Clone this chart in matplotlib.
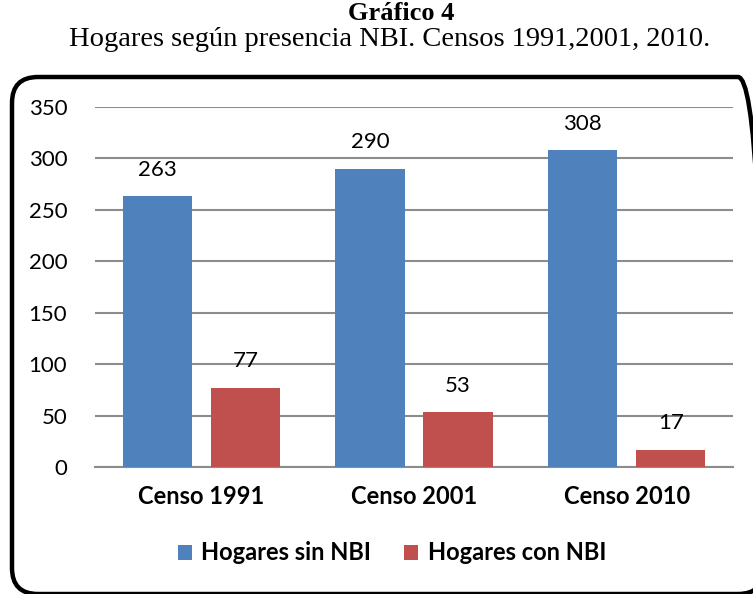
import matplotlib
matplotlib.use("Agg")
import matplotlib.pyplot as plt
import numpy as np
from matplotlib.patches import FancyBboxPatch
from matplotlib.transforms import IdentityTransform

categories = ["Censo 1991", "Censo 2001", "Censo 2010"]
sin_nbi = [263, 290, 308]
con_nbi = [77, 53, 17]
series_names = ["Hogares sin NBI", "Hogares con NBI"]
yticks = [0, 50, 100, 150, 200, 250, 300, 350]

BLUE = "#4F81BD"
RED = "#C0504D"
GRID = "#8C8C8C"
FONT = "Lato"

fig = plt.figure(figsize=(7.53, 5.94), dpi=100)
ax = fig.add_axes([95/753, 1 - 467/594, (733-95)/753, (467-107)/594])

x = np.arange(len(categories))
w = 0.325
off = 0.207
b1 = ax.bar(x - off, sin_nbi, w, color=BLUE, zorder=3, label=series_names[0])
b2 = ax.bar(x + off, con_nbi, w, color=RED, zorder=3, label=series_names[1])

for bars, vals in ((b1, sin_nbi), (b2, con_nbi)):
    for r, v in zip(bars, vals):
        ax.annotate(str(v), (r.get_x() + r.get_width()/2, v), xytext=(0, 12),
                    textcoords="offset points", ha="center", va="bottom",
                    fontsize=16, family=FONT, color="black")

ax.set_xlim(-0.5, 2.5)
ax.set_ylim(0, 350)
ax.set_yticks(yticks)
ax.set_yticklabels([str(t) for t in yticks], fontsize=16, family=FONT)
ax.yaxis.grid(True, color=GRID, linewidth=1.5, zorder=0)
ax.set_axisbelow(True)
ax.tick_params(axis="y", length=0, pad=20)
ax.tick_params(axis="x", length=0, pad=13)
ax.set_xticks(x)
ax.set_xticklabels(categories, fontsize=17, family=FONT, fontweight="bold")
for s in ("left", "right", "top"):
    ax.spines[s].set_visible(False)
ax.spines["bottom"].set_color(GRID)
ax.spines["bottom"].set_linewidth(1.5)

leg = fig.legend(handles=[b1, b2], labels=series_names, loc="center",
                 bbox_to_anchor=(392/753, 1 - 553/594), ncol=2, frameon=False,
                 prop={"family": FONT, "weight": "bold", "size": 17},
                 handlelength=0.6, handleheight=0.6, handletextpad=0.4,
                 columnspacing=1.4)

fig.text(401/753, 1 - 13/594, "Gráfico 4", ha="center", va="center",
         fontsize=19, fontweight="bold", family="Liberation Serif")
fig.text(390/753, 1 - 39/594, "Hogares según presencia NBI. Censos 1991,2001, 2010.",
         ha="center", va="center", fontsize=20.5, family="Liberation Serif")

box = FancyBboxPatch((12, 0), 752, 594 - 77,
                     boxstyle="round,pad=0,rounding_size=26",
                     transform=IdentityTransform(), fill=False,
                     edgecolor="black", linewidth=3.2, clip_on=False)
fig.patches.append(box)

fig.savefig("out.png", dpi=100)
